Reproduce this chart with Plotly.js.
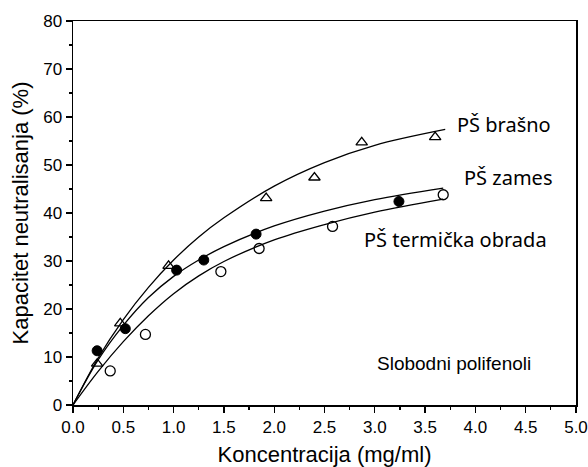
<!DOCTYPE html>
<html>
<head>
<meta charset="utf-8">
<script src="https://cdn.plot.ly/plotly-3.0.1.min.js"></script>
<style>html,body{margin:0;padding:0;background:#fff;}#chart{width:588px;height:467px;}</style>
</head>
<body>
<div id="chart"></div>
<script>
// Measured points
const brasnoX = [0.24, 0.47, 0.95, 1.92, 2.40, 2.87, 3.60];
const brasnoY = [8.6, 17.0, 29.0, 43.1, 47.4, 54.7, 55.8];
const zamesX = [0.24, 0.52, 1.03, 1.30, 1.82, 3.24];
const zamesY = [11.3, 15.9, 28.1, 30.2, 35.6, 42.4];
const termX = [0.37, 0.72, 1.47, 1.85, 2.58, 3.68];
const termY = [7.1, 14.7, 27.8, 32.6, 37.2, 43.8];

// Fitted curves
const brasnoFitX = [0, 0.25, 0.5, 0.75, 1.0, 1.25, 1.5, 2.0, 2.5, 3.0, 3.7];
const brasnoFitY = [0, 9.8, 17.8, 24.5, 30.2, 35.0, 39.0, 45.6, 50.5, 54.1, 57.4];
const zamesFitX = [0, 0.25, 0.5, 0.75, 1.0, 1.25, 1.5, 2.0, 2.5, 3.0, 3.68];
const zamesFitY = [0, 9.4, 16.6, 22.4, 26.8, 30.2, 33.0, 37.3, 40.4, 42.8, 45.2];
const termFitX = [0, 0.25, 0.5, 0.75, 1.0, 1.25, 1.5, 2.0, 2.5, 3.0, 3.68];
const termFitY = [0, 7.0, 13.2, 18.6, 23.2, 26.9, 29.9, 34.4, 37.6, 40.2, 42.9];

const labels = ["PŠ brašno", "PŠ zames", "PŠ termička obrada", "Slobodni polifenoli"];

const lineStyle = {color: 'black', width: 1.3, shape: 'spline', smoothing: 1.0};
const traces = [
  {x: brasnoFitX, y: brasnoFitY, mode: 'lines', line: lineStyle, hoverinfo: 'skip'},
  {x: zamesFitX, y: zamesFitY, mode: 'lines', line: lineStyle, hoverinfo: 'skip'},
  {x: termFitX, y: termFitY, mode: 'lines', line: lineStyle, hoverinfo: 'skip'},
  {x: brasnoX, y: brasnoY, mode: 'markers',
   marker: {symbol: 'triangle-up-open', size: 10, color: 'black', line: {width: 1.3, color: 'black'}}},
  {x: zamesX, y: zamesY, mode: 'markers',
   marker: {symbol: 'circle', size: 10, color: 'black', line: {width: 1, color: 'black'}}},
  {x: termX, y: termY, mode: 'markers',
   marker: {symbol: 'circle-open', size: 10, color: 'black', line: {width: 1.3, color: 'black'}}}
];

const sans = 'Liberation Sans, Arial, sans-serif';
const axisFont = {family: sans, size: 17, color: 'black'};
const annFont = {family: 'Noto Sans, sans-serif', size: 20, color: 'black'};
const layout = {
  width: 588, height: 467,
  margin: {l: 73, r: 12, t: 21, b: 62},
  showlegend: false,
  paper_bgcolor: 'white', plot_bgcolor: 'white',
  xaxis: {
    range: [0, 5], dtick: 0.5, tick0: 0, tickformat: '.1f',
    showgrid: false, zeroline: false,
    showline: true, linecolor: 'black', linewidth: 1.5, mirror: true,
    ticks: 'outside', ticklen: 6, tickwidth: 1.3, tickcolor: 'black',
    minor: {dtick: 0.25, ticks: 'outside', ticklen: 3, tickwidth: 1.2, tickcolor: 'black', showgrid: false},
    tickfont: axisFont,
    title: {text: 'Koncentracija (mg/ml)', font: {family: sans, size: 22, color: 'black'}, standoff: 10}
  },
  yaxis: {
    range: [0, 80], dtick: 10, tick0: 0,
    showgrid: false, zeroline: false,
    showline: true, linecolor: 'black', linewidth: 1.5, mirror: true,
    ticks: 'outside', ticklen: 6, tickwidth: 1.3, tickcolor: 'black',
    minor: {dtick: 5, ticks: 'outside', ticklen: 3, tickwidth: 1.2, tickcolor: 'black', showgrid: false},
    tickfont: axisFont,
    title: {text: 'Kapacitet neutralisanja (%)', font: {family: sans, size: 22, color: 'black'}, standoff: 8}
  },
  annotations: [
    {x: 3.80, y: 58.4, text: labels[0], xanchor: 'left', yanchor: 'middle', showarrow: false, font: annFont},
    {x: 3.865, y: 47.3, text: labels[1], xanchor: 'left', yanchor: 'middle', showarrow: false, font: annFont},
    {x: 2.87, y: 34.4, text: labels[2], xanchor: 'left', yanchor: 'middle', showarrow: false, font: annFont},
    {x: 3.00, y: 8.7, text: labels[3], xanchor: 'left', yanchor: 'middle', showarrow: false,
     font: {family: sans, size: 19, color: 'black'}}
  ]
};

Plotly.newPlot('chart', traces, layout, {staticPlot: true, displayModeBar: false});
</script>
</body>
</html>
